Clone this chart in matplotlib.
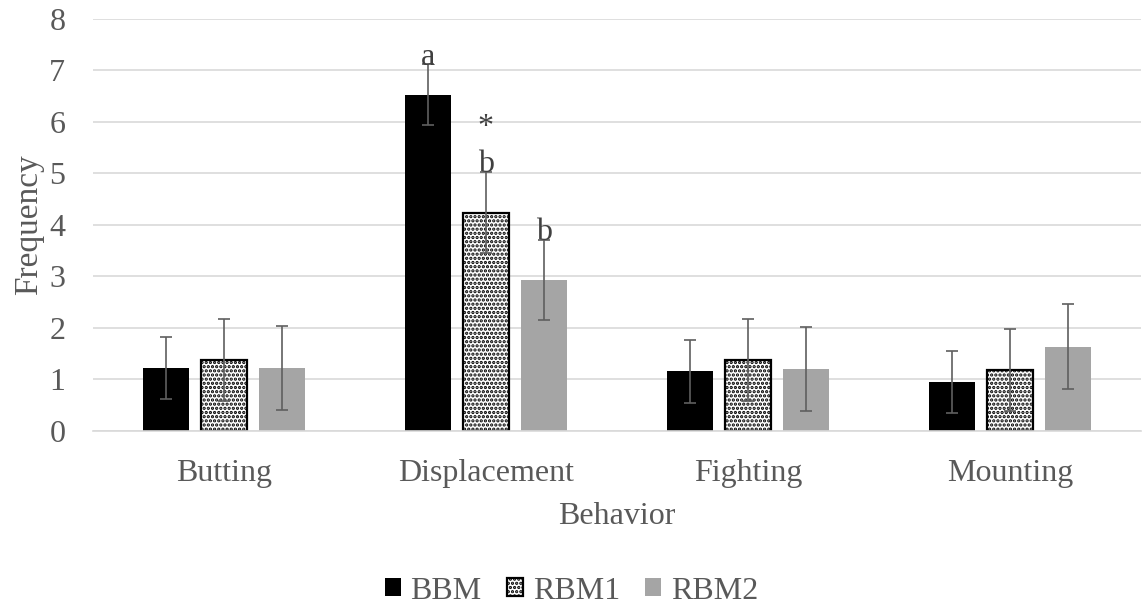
"""
Behavior frequency bar chart (BBM / RBM1 / RBM2).
"""
import matplotlib
matplotlib.use('Agg')
import matplotlib.pyplot as plt
import numpy as np

behaviors = ['Butting', 'Displacement', 'Fighting', 'Mounting']
groups = ['BBM', 'RBM1', 'RBM2']

bbm = [1.22, 6.53, 1.16, 0.95]
rbm1 = [1.38, 4.24, 1.38, 1.18]
rbm2 = [1.22, 2.93, 1.20, 1.64]

bbm_err = [0.60, 0.59, 0.61, 0.61]
rbm1_err = [0.80, 0.79, 0.80, 0.80]
rbm2_err = [0.81, 0.78, 0.82, 0.82]

# significance letters: (behavior index, group index, text, y value)
marks = [(1, 0, 'a', 7.1), (1, 1, '*', 5.75), (1, 1, 'b', 5.02), (1, 2, 'b', 3.70)]

TEXT = '#595959'
GRID = '#d9d9d9'
FS = 23
plt.rcParams['font.family'] = ['Liberation Serif', 'DejaVu Serif']
plt.rcParams['hatch.linewidth'] = 1.6

fig = plt.figure(figsize=(11.43, 6.07), dpi=100)
ax = fig.add_axes([0.0814, 0.29, 0.9166, 0.6787])

x = np.arange(len(behaviors))
step = 0.221
width = 0.176
err_kw = dict(ecolor='#5f5f5f', elinewidth=1.2, capsize=4.5, capthick=1.2)

ax.bar(x - step, bbm, width, yerr=bbm_err, color='black', label='BBM',
       error_kw=err_kw, zorder=2)
ax.bar(x, rbm1, width, yerr=rbm1_err, color='white', edgecolor='black',
       hatch='....', linewidth=1.6, label='RBM1', error_kw=err_kw, zorder=2)
ax.bar(x + step, rbm2, width, yerr=rbm2_err, color='#a5a5a5', label='RBM2',
       error_kw=err_kw, zorder=2)

for bi, gi, txt, yv in marks:
    xpos = x[bi] + (gi - 1) * step
    ax.text(xpos, yv, txt, ha='center', va='baseline', fontsize=FS,
            color='#404040', zorder=3)

ax.set_xlim(-0.5, 3.5)
ax.set_ylim(0, 8)
ax.set_yticks(range(0, 9))
ax.set_xticks(x)
ax.set_xticklabels(behaviors)
ax.yaxis.grid(True, color=GRID, linewidth=1.2, zorder=0)
ax.set_axisbelow(True)
for side in ['top', 'right', 'left']:
    ax.spines[side].set_visible(False)
ax.spines['bottom'].set_color(GRID)
ax.spines['bottom'].set_linewidth(1.2)
ax.tick_params(axis='y', length=0, pad=20, labelsize=FS, labelcolor=TEXT)
ax.tick_params(axis='x', length=0, pad=20.5, labelsize=FS, labelcolor=TEXT)

ax.set_xlabel('Behavior', fontsize=FS, color=TEXT, labelpad=10)
ax.set_ylabel('Frequency', fontsize=24, color=TEXT, labelpad=4)

leg = fig.legend(loc='lower center', bbox_to_anchor=(0.5, -0.045), ncol=3,
                 frameon=False, fontsize=FS, handlelength=0.5, handleheight=0.5,
                 handletextpad=0.3, columnspacing=0.8)
for t in leg.get_texts():
    t.set_color(TEXT)

plt.savefig('out.png', dpi=100)
